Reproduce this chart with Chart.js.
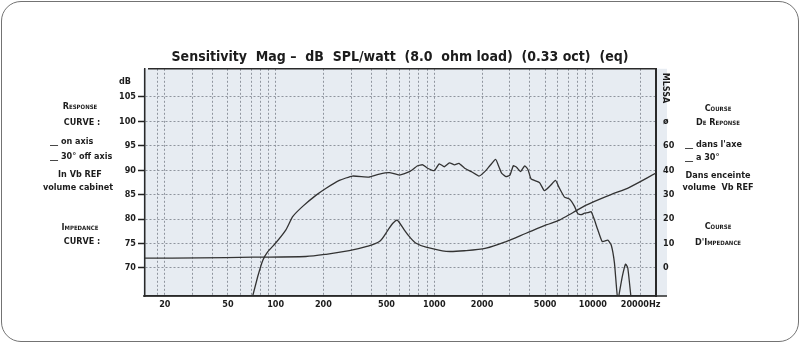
<!DOCTYPE html>
<html>
<head>
<meta charset="utf-8">
<script src="https://cdn.jsdelivr.net/npm/chart.js@4"></script>
<style>
  html, body { margin: 0; padding: 0; background: #fff; }
  #wrap { position: relative; width: 800px; height: 343px; }
  #frame { position: absolute; left: 1px; top: 1px; width: 798px; height: 341px; box-sizing: border-box;
           border: 1.5px solid #737373; border-radius: 20px; pointer-events: none; }
</style>
</head>
<body>
<div id="wrap">
  <canvas id="chart" width="800" height="343"></canvas>
  <div id="frame"></div>
</div>
<script>
// on-axis response, dB SPL
const splFreq = [70, 77, 83, 89, 100, 116, 128, 148, 180, 208, 252, 305, 389, 451, 521, 603, 698, 786, 845, 907,
  1000, 1075, 1157, 1246, 1342, 1430, 1554, 1713, 1915, 2082, 2241, 2436, 2555, 2657, 2829, 3000, 3150, 3300, 3493, 3720,
  3900, 4080, 4600, 4950, 5380, 5810, 6155, 6620, 7120, 7660, 8035, 8440, 8850, 9290, 9750, 10135, 10740, 11450, 12420, 13050,
  13680, 14360, 15310, 16060, 16600, 17450];
const splDb = [63, 68.2, 71.6, 73.3, 75.1, 77.8, 80.5, 82.6, 84.9, 86.3, 87.9, 88.8, 88.6, 89.2, 89.5, 89.0, 89.7, 90.9, 91.1, 90.4,
  89.9, 91.3, 90.7, 91.5, 91.1, 91.4, 90.4, 89.7, 88.8, 89.7, 90.9, 92.2, 90.7, 89.4, 88.7, 89.0, 90.9, 90.6, 89.7, 90.9,
  90.1, 88.2, 87.5, 85.8, 86.8, 87.9, 86.3, 84.5, 84.1, 82.6, 81.1, 80.9, 81.2, 81.3, 81.5, 80.2, 77.8, 75.4, 75.7, 74.7,
  71.0, 63.5, 68.2, 70.8, 70.0, 63.5];

// impedance, ohms (right axis)
const impFreq = [15, 33, 72, 155, 208, 291, 371, 451, 508, 546, 581, 602, 648, 697, 768, 888, 1187, 1587, 2123, 2838,
  3795, 5073, 6155, 7460, 9150, 13000, 17000, 25000];
const impOhm = [4.0, 4.1, 4.4, 4.7, 5.6, 7.1, 8.7, 10.8, 15.3, 18.2, 19.6, 18.6, 15.5, 12.8, 10.1, 8.5, 6.8, 7.1, 8.1, 10.8,
  14.2, 17.6, 19.6, 22.6, 25.8, 30.0, 33.0, 38.8];

const gridFreqs = [18, 20, 30, 40, 50, 60, 70, 80, 90, 100, 200, 300, 400, 500, 600, 700, 800, 900,
  1000, 2000, 3000, 4000, 5000, 6000, 7000, 8000, 9000, 10000, 20000];
const freqLabels = { 20: '20', 50: '50', 100: '100', 200: '200', 500: '500', 1000: '1000', 2000: '2000',
  5000: '5000', 10000: '10000', 20000: '20000Hz' };
const dbTicks = [70, 75, 80, 85, 90, 95, 100, 105];
const ohmTicks = [0, 10, 20, 30, 40, 50, 60];
const ohmLabels = ['0', '10', '20', '30', '40', '60', 'ø'];

const FONT = "'Liberation Sans Narrow', 'DejaVu Sans Condensed', 'Liberation Sans', sans-serif";
const INK = '#1c1c1c';

function note(ctx, text, x, y, align, caps) {
  ctx.font = (caps ? 'small-caps ' : '') + 'bold 9px ' + FONT;
  ctx.textAlign = align;
  ctx.textBaseline = 'middle';
  ctx.fillText(text, x, y);
}

const decor = {
  id: 'decor',
  beforeDraw(chart) {
    const { ctx, chartArea: a } = chart;
    ctx.save();
    ctx.fillStyle = '#e7ecf2';
    ctx.fillRect(a.left - 2, a.top, a.right - a.left + 13, a.bottom - a.top);
    ctx.restore();
  },
  afterDraw(chart) {
    const { ctx, chartArea: a } = chart;
    ctx.save();
    ctx.strokeStyle = '#2a2a2a';
    ctx.lineWidth = 1.5;
    ctx.beginPath();
    ctx.moveTo(a.left + 3, a.top);
    ctx.lineTo(a.right, a.top);
    ctx.moveTo(a.left - 2, a.bottom);
    ctx.lineTo(a.right + 11, a.bottom);
    ctx.stroke();

    ctx.fillStyle = INK;
    note(ctx, 'dB', 125, 82, 'center');
    note(ctx, 'Response', 80, 107, 'center', true);
    note(ctx, 'CURVE :', 82, 123, 'center');
    note(ctx, '__ on axis', 50, 142, 'left');
    note(ctx, '__ 30° off axis', 50, 157, 'left');
    note(ctx, 'In Vb REF', 80, 175, 'center');
    note(ctx, 'volume cabinet', 78, 188, 'center');
    note(ctx, 'Impedance', 80, 228, 'center', true);
    note(ctx, 'CURVE :', 82, 242, 'center');

    note(ctx, 'Course', 718, 109, 'center', true);
    note(ctx, 'De Reponse', 718, 123, 'center', true);
    note(ctx, "__ dans l'axe", 685, 145, 'left');
    note(ctx, '__ a 30°', 685, 158, 'left');
    note(ctx, 'Dans enceinte', 718, 176, 'center');
    note(ctx, 'volume  Vb REF', 718, 188, 'center');
    note(ctx, 'Course', 718, 227, 'center', true);
    note(ctx, "D'Impedance", 718, 243, 'center', true);

    ctx.translate(665, 88);
    ctx.rotate(Math.PI / 2);
    note(ctx, 'MLSSA', 0, 0, 'center');
    ctx.restore();
  }
};

const tickFont = { family: FONT, size: 9, weight: 'bold' };

new Chart(document.getElementById('chart'), {
  type: 'line',
  data: {
    datasets: [
      {
        label: 'on axis',
        data: splFreq.map((f, i) => ({ x: f, y: splDb[i] })),
        borderColor: '#333',
        borderWidth: 1.3,
        pointRadius: 0,
        tension: 0.15,
        yAxisID: 'y'
      },
      {
        label: 'impedance',
        data: impFreq.map((f, i) => ({ x: f, y: impOhm[i] })),
        borderColor: '#333',
        borderWidth: 1.3,
        pointRadius: 0,
        tension: 0.3,
        yAxisID: 'y2'
      }
    ]
  },
  options: {
    responsive: false,
    animation: false,
    devicePixelRatio: 1,
    layout: { padding: 0 },
    plugins: {
      legend: { display: false },
      tooltip: { enabled: false },
      title: {
        display: true,
        text: 'Sensitivity  Mag –  dB  SPL/watt  (8.0  ohm load)  (0.33 oct)  (eq)',
        color: INK,
        font: { family: FONT, size: 14, weight: 'bold' },
        padding: { top: 49, bottom: 3 }
      }
    },
    scales: {
      x: {
        type: 'logarithmic',
        min: 15,
        max: 25000,
        afterBuildTicks: s => { s.ticks = gridFreqs.map(v => ({ value: v })); },
        afterFit: s => { s.height = 47; },
        ticks: {
          autoSkip: false,
          maxRotation: 0,
          padding: 3,
          color: INK,
          font: tickFont,
          callback: v => freqLabels[v] || ''
        },
        grid: { color: '#8f959e', lineWidth: 1, drawTicks: false },
        border: { color: '#2a2a2a', width: 1.5, dash: [2, 2] }
      },
      y: {
        position: 'left',
        min: 64.27,
        max: 110.73,
        afterBuildTicks: s => { s.ticks = dbTicks.map(v => ({ value: v })); },
        afterFit: s => { s.width = 145; },
        ticks: { padding: 2, color: INK, font: tickFont },
        grid: { color: '#8f959e', lineWidth: 1, tickLength: 7, tickColor: '#222', tickWidth: 1.5, tickBorderDash: [] },
        border: { color: '#2a2a2a', width: 1.5, dash: [2, 2] }
      },
      y2: {
        position: 'right',
        min: -11.46,
        max: 81.46,
        afterBuildTicks: s => { s.ticks = ohmTicks.map(v => ({ value: v })); },
        afterFit: s => { s.width = 144; },
        ticks: { padding: 7, color: INK, font: tickFont, callback: (v, i) => ohmLabels[i] },
        grid: { drawOnChartArea: false, drawTicks: false },
        border: { color: '#2a2a2a', width: 2 }
      }
    }
  },
  plugins: [decor]
});
</script>
</body>
</html>
